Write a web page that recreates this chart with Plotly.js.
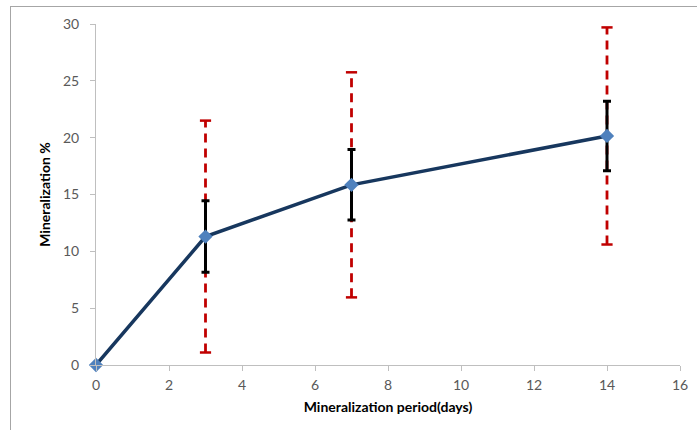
<!DOCTYPE html>
<html><head><meta charset="utf-8">
<script src="https://cdn.plot.ly/plotly-3.0.1.min.js"></script>
<style>
html,body{margin:0;padding:0;background:#fff;}
#frame{position:absolute;left:10px;top:6px;width:700px;height:440px;border:1px solid #a6a6a6;box-sizing:border-box;}
#chart{position:absolute;left:0;top:0;width:697px;height:430px;}
</style>
</head><body>
<div id="frame"></div>
<div id="chart"></div>
<script>
const days = [0, 3, 7, 14];
const mineralization = [0, 11.3, 15.85, 20.15];
const sdSmall = [0, 3.15, 3.1, 3.05];
const sdLarge = [0, 10.2, 9.9, 9.55];

const traces = [];
// red dashed wide bars
for (let i = 1; i < days.length; i++) {
  traces.push({
    x: [days[i], days[i]],
    y: [mineralization[i] - sdLarge[i], mineralization[i] + sdLarge[i]],
    mode: 'lines+markers',
    line: {color: '#c00000', width: 2.8, dash: '9px,6px'},
    marker: {symbol: 'line-ew-open', size: 8, color: '#c00000', line: {color: '#c00000', width: 2.5}},
    showlegend: false, hoverinfo: 'skip'
  });
}
// black narrow bars
traces.push({
  x: days.slice(1), y: mineralization.slice(1),
  mode: 'markers', marker: {size: 1, color: 'rgba(0,0,0,0)'},
  error_y: {type: 'data', array: sdSmall.slice(1), visible: true, color: '#000', thickness: 3, width: 4},
  showlegend: false, hoverinfo: 'skip'
});
// main line
traces.push({
  x: days, y: mineralization,
  mode: 'lines+markers',
  line: {color: '#17375e', width: 3.5},
  marker: {symbol: 'diamond', size: 11, color: '#4f81bd'},
  cliponaxis: false,
  showlegend: false
});

const layout = {
  width: 697, height: 430,
  margin: {l: 96, r: 17, t: 24, b: 65},
  paper_bgcolor: 'rgba(0,0,0,0)', plot_bgcolor: 'rgba(0,0,0,0)',
  font: {family: 'Lato, "Open Sans", sans-serif', size: 12, color: '#595959'},
  xaxis: {
    range: [0, 16], dtick: 2, tick0: 0, showgrid: false, zeroline: false,
    showline: true, linecolor: '#bfbfbf', linewidth: 1,
    ticks: 'outside', ticklen: 5, tickcolor: '#bfbfbf',
    ticklabelstandoff: 2,
    tickfont: {size: 14, color: '#595959'},
    title: {text: '<b>Mineralization period(days)</b>', font: {size: 14, color: '#000'}, standoff: 10}
  },
  yaxis: {
    range: [0, 30], dtick: 5, tick0: 0, showgrid: false, zeroline: false,
    showline: true, linecolor: '#bfbfbf', linewidth: 1,
    ticks: 'outside', ticklen: 5, tickcolor: '#bfbfbf',
    ticklabelstandoff: 8,
    tickfont: {size: 14, color: '#595959'},
    title: {text: '<b>Mineralization %</b>', font: {size: 14, color: '#000'}, standoff: 9}
  }
};
Plotly.newPlot('chart', traces, layout, {displayModeBar: false, staticPlot: true});
</script>
</body></html>
